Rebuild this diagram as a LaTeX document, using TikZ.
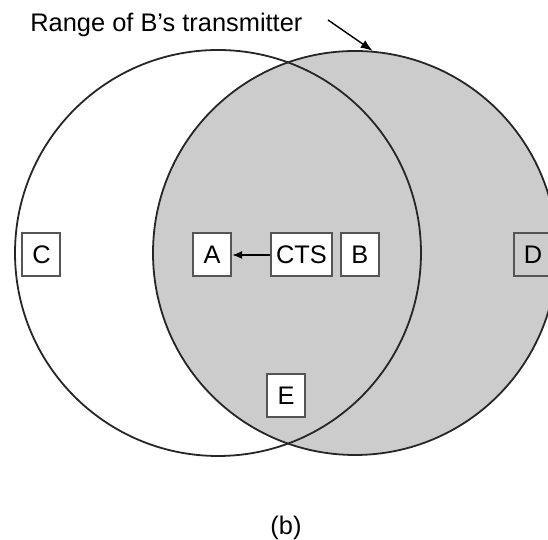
\documentclass[tikz,border=0pt]{standalone}
\usepackage{fontspec}
\setmainfont{Liberation Sans}
\usetikzlibrary{arrows.meta,positioning}
\definecolor{shade}{RGB}{204,204,204}
\definecolor{boxline}{RGB}{85,85,85}

\begin{document}
\begin{tikzpicture}[x=0.5pt,y=0.5pt,font=\fontsize{12.7}{15}\selectfont,
  coverage/.style={circle,draw=black!85,line width=0.9pt,minimum size=202pt,inner sep=0pt},
  station/.style={draw=boxline,line width=1pt,fill=white,minimum width=19pt,minimum height=21.5pt,inner xsep=2.5pt,inner ysep=0pt}]
\useasboundingbox (0,0) rectangle (548,540);
\node[coverage,fill=shade] (rangeB) at (355,287) {};
\node[coverage,minimum size=203pt] (rangeA) at (218,287) {};
\node[station] (cts) at (301.5,285) {CTS};
\node[station,left=19pt of cts] (a) {A};
\node[station,right=3.5pt of cts] (b) {B};
\node[station] (c) at (41.5,285) {C};
\node[station,fill=none] (d) at (533,285) {D};
\node[station] (e) at (286,144.5) {E};
\draw[line width=0.8pt,-{Latex[length=5pt,width=4pt]}] (cts) -- (a);
\node[anchor=base west,inner sep=0pt] (label) at (30,508) {Range of B's transmitter};
\coordinate (tail) at (328,520);
\draw[line width=0.7pt,-{Latex[length=6pt,width=4.5pt]}] (tail) -- (rangeB.85);
\node (fig) at (286,12) {(b)};
\end{tikzpicture}
\end{document}
